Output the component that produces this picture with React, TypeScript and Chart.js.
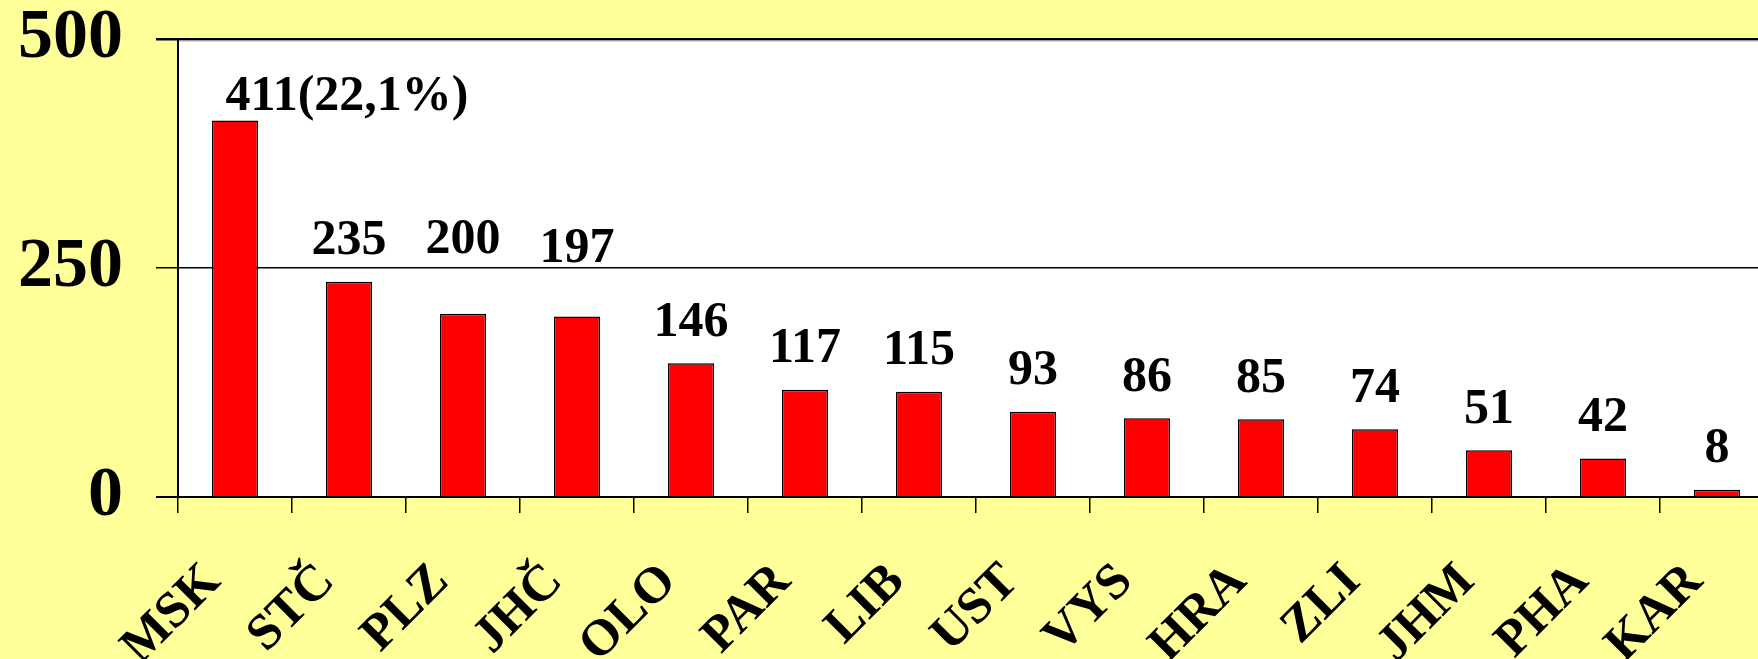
import React, { useEffect, useRef } from "react";
import { Chart, registerables } from "chart.js";

Chart.register(...registerables);

// ---- data ----
const categories = ["MSK", "STČ", "PLZ", "JHČ", "OLO", "PAR", "LIB", "UST", "VYS", "HRA", "ZLI", "JHM", "PHA", "KAR"];
const values = [411, 235, 200, 197, 146, 117, 115, 93, 86, 85, 74, 51, 42, 8];
const yTickValues = [0, 250, 500];

const total = values.reduce((a, b) => a + b, 0);
const dataLabels = values.map((v, i) =>
  i === 0 ? `${v}(${((v / total) * 100).toFixed(1).replace(".", ",")}%)` : String(v)
);

// ---- styling / layout ----
const SERIF = "'Times New Roman', 'Liberation Serif', serif";
const BG = "#FFFF99";
const BAR = "#FF0000";
const CANVAS_W = 1774;
const CANVAS_H = 659;
const LABEL_GAP = 27.5;
// per-label nudges (px) to mimic the hand-placed labels
const labelNudges: { dx: number; dy: number }[] = [
  { dx: 112, dy: 17 },
  { dx: 0, dy: 0 },
  { dx: 0, dy: -33 },
  { dx: 0, dy: -27 },
];

const bgPlugin = {
  id: "bgPlugin",
  beforeDraw(chart: any) {
    const { ctx, chartArea } = chart;
    ctx.save();
    ctx.fillStyle = BG;
    ctx.fillRect(0, 0, chart.width, chart.height);
    ctx.fillStyle = "#FFFFFF";
    ctx.fillRect(chartArea.left, chartArea.top, chartArea.right - chartArea.left, chartArea.bottom - chartArea.top);
    ctx.restore();
  },
  afterDraw(chart: any) {
    const { ctx, chartArea } = chart;
    ctx.save();
    ctx.strokeStyle = "#BBBBBB";
    ctx.lineWidth = 1;
    ctx.beginPath();
    ctx.moveTo(chartArea.left + 1, chartArea.top + 2);
    ctx.lineTo(chartArea.right, chartArea.top + 2);
    ctx.stroke();
    ctx.restore();
  },
};

const valueLabelPlugin = {
  id: "valueLabelPlugin",
  afterDatasetsDraw(chart: any) {
    const { ctx } = chart;
    const meta = chart.getDatasetMeta(0);
    ctx.save();
    ctx.font = `bold 50px ${SERIF}`;
    ctx.fillStyle = "#000000";
    ctx.textAlign = "center";
    ctx.textBaseline = "alphabetic";
    meta.data.forEach((bar: any, i: number) => {
      const n = labelNudges[i] || { dx: 0, dy: 0 };
      ctx.fillText(dataLabels[i], bar.x + n.dx, bar.y - LABEL_GAP + n.dy);
    });
    ctx.restore();
  },
};

export default function App() {
  const canvasRef = useRef<HTMLCanvasElement | null>(null);

  useEffect(() => {
    const canvas = canvasRef.current;
    if (!canvas) return;
    const chart = new Chart(canvas, {
      type: "bar",
      data: {
        labels: categories,
        datasets: [
          {
            data: values,
            backgroundColor: BAR,
            borderColor: "#000000",
            borderWidth: 1.5,
            categoryPercentage: 1,
            barPercentage: 0.404,
          },
        ],
      },
      options: {
        animation: false,
        responsive: false,
        devicePixelRatio: 1,
        layout: { padding: { top: 39, left: 0, right: 0, bottom: 0 } },
        plugins: {
          legend: { display: false },
          tooltip: { enabled: false },
          title: { display: false },
        },
        scales: {
          x: {
            type: "category",
            offset: true,
            grid: {
              display: true,
              offset: true,
              drawOnChartArea: false,
              drawTicks: true,
              tickLength: 16,
              color: "#000000",
              lineWidth: 1.5,
            },
            border: { display: true, color: "#000000", width: 2 },
            ticks: {
              autoSkip: false,
              minRotation: 45,
              maxRotation: 45,
              padding: 39,
              labelOffset: -22,
              color: "#000000",
              font: { family: SERIF, size: 51, weight: "bold", lineHeight: 1.2 },
            },
            afterFit(scale: any) {
              scale.height = CANVAS_H - 497;
              scale.paddingLeft = 0;
              scale.paddingRight = 0;
            },
          },
          y: {
            type: "linear",
            min: 0,
            max: 500,
            afterBuildTicks(scale: any) {
              scale.ticks = yTickValues.map((v) => ({ value: v }));
            },
            grid: {
              display: true,
              drawTicks: true,
              tickLength: 22,
              color: "#000000",
              lineWidth: (ctx: any) => (ctx.tick && ctx.tick.value === 500 ? 2.5 : ctx.tick && ctx.tick.value === 0 ? 2 : 1.5),
            },
            border: { display: true, color: "#000000", width: 2 },
            ticks: {
              padding: 33,
              color: "#000000",
              font: { family: SERIF, size: 70, weight: "bold", lineHeight: 1 },
            },
            afterFit(scale: any) {
              scale.width = 178;
              scale.paddingTop = 0;
              scale.paddingBottom = 0;
            },
          },
        },
      },
      plugins: [bgPlugin, valueLabelPlugin],
    });
    return () => chart.destroy();
  }, []);

  return (
    <div
      style={{
        position: "fixed",
        left: 0,
        top: 0,
        width: 1758,
        height: 659,
        overflow: "hidden",
        background: BG,
      }}
    >
      <canvas ref={canvasRef} width={CANVAS_W} height={CANVAS_H} style={{ display: "block", width: CANVAS_W, height: CANVAS_H }} />
    </div>
  );
}
